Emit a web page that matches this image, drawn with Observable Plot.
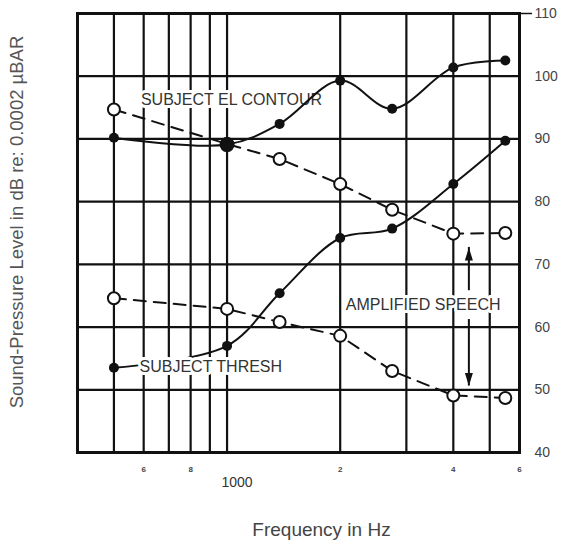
<!DOCTYPE html>
<html>
<head>
<meta charset="utf-8">
<script src="https://cdn.jsdelivr.net/npm/d3@7"></script>
<script src="https://cdn.jsdelivr.net/npm/@observablehq/plot@0.6"></script>
<style>
  html, body { margin: 0; padding: 0; background: #fff; }
  #chart svg { display: block; }
</style>
</head>
<body>
<div id="chart"></div>
<script>
// ---- data ----
const freqs = [500, 1000, 1380, 2000, 2750, 4000, 5500];
const elContourDb = [90.2, 89.1, 92.4, 99.3, 94.8, 101.4, 102.5];
const thresholdDb = [53.5, 57.0, 65.4, 74.2, 75.7, 82.8, 89.7];
const speechUpperDb = [94.7, 89.2, 86.8, 82.8, 78.7, 74.9, 75.0];
const speechLowerDb = [64.6, 62.9, 60.8, 58.6, 53.0, 49.1, 48.7];

const gridFreqs = [500, 600, 700, 800, 900, 1000, 2000, 3000, 4000, 5000];
const gridDb = [50, 60, 70, 80, 90, 100];
const yTicks = [40, 50, 60, 70, 80, 90, 100, 110];
const xTickValues = [600, 800, 2000, 4000, 6000];
const xTickLabels = ["6", "8", "2", "4", "6"];

const labels = [
  {text: "SUBJECT EL CONTOUR", f: 590, db: 96.2},
  {text: "SUBJECT THRESH", f: 585, db: 53.7},
  {text: "AMPLIFIED SPEECH", f: 2070, db: 63.5}
];
const arrowFreq = 4400;
const arrowUp = {from: 65.8, tip: 72.7};
const arrowDown = {from: 61.2, tip: 50.6};

const yLabel = "Sound-Pressure Level in dB re: 0.0002 µBAR";
const xLabel = "Frequency in Hz";

const toRows = (ys) => freqs.map((f, i) => ({f, db: ys[i]}));
const el = toRows(elContourDb);
const thr = toRows(thresholdDb);
const up = toRows(speechUpperDb);
const lo = toRows(speechLowerDb);

const headSymbol = {
  draw(context) {
    context.moveTo(0, 0);
    context.lineTo(4, 13);
    context.lineTo(-4, 13);
    context.closePath();
  }
};

const chart = Plot.plot({
  width: 562,
  height: 544,
  marginLeft: 77,
  marginRight: 43,
  marginTop: 13,
  marginBottom: 92,
  style: {fontFamily: "'Liberation Sans', Arial, sans-serif", background: "#fff"},
  x: {type: "log", domain: [400, 6000]},
  y: {domain: [40, 110]},
  marks: [
    Plot.ruleX(gridFreqs, {stroke: "#111", strokeWidth: 2.2}),
    Plot.ruleY(gridDb, {stroke: "#111", strokeWidth: 2.2}),
    Plot.frame({stroke: "#111", strokeWidth: 3}),
    Plot.text(labels.slice(0, 1), {x: "f", y: "db", text: "text", textAnchor: "start", fontSize: 16, fill: "#333", stroke: "white", strokeWidth: 6}),
    Plot.line(up, {x: "f", y: "db", stroke: "#111", strokeWidth: 2, strokeDasharray: "12,8"}),
    Plot.line(lo, {x: "f", y: "db", stroke: "#111", strokeWidth: 2, strokeDasharray: "12,8"}),
    Plot.line(el, {x: "f", y: "db", stroke: "#111", strokeWidth: 2, curve: "catmull-rom"}),
    Plot.line(thr, {x: "f", y: "db", stroke: "#111", strokeWidth: 2, curve: "catmull-rom"}),
    Plot.dot(up, {x: "f", y: "db", r: 6, fill: "white", stroke: "#111", strokeWidth: 2}),
    Plot.dot(lo, {x: "f", y: "db", r: 6, fill: "white", stroke: "#111", strokeWidth: 2}),
    Plot.dot(el, {x: "f", y: "db", r: 5, fill: "#111", stroke: null}),
    Plot.dot(el, {filter: (d) => d.f === 1000, x: "f", y: "db", r: 7.5, fill: "#111", stroke: null}),
    Plot.dot(thr, {x: "f", y: "db", r: 5, fill: "#111", stroke: null}),
    Plot.text(labels.slice(1), {x: "f", y: "db", text: "text", textAnchor: "start", fontSize: 16, fill: "#333", stroke: "white", strokeWidth: 6}),
    Plot.ruleX([arrowUp, arrowDown], {x: () => arrowFreq, y1: "from", y2: "tip", stroke: "#111", strokeWidth: 2}),
    Plot.dot([arrowUp], {x: () => arrowFreq, y: "tip", symbol: headSymbol, r: 4, fill: "#111", stroke: null}),
    Plot.dot([arrowDown], {x: () => arrowFreq, y: "tip", symbol: headSymbol, r: 4, fill: "#111", stroke: null, rotate: 180}),
    Plot.axisY({anchor: "right", ticks: yTicks, tickSize: 0, tickPadding: 15, fontSize: 14, color: "#444", label: null}),
    Plot.axisY({anchor: "right", ticks: [110], tickSize: 12, tickFormat: () => "", stroke: "#111", strokeWidth: 1.5, label: null}),
    Plot.axisX({ticks: xTickValues, tickSize: 0, tickPadding: 14, tickFormat: (d) => xTickLabels[xTickValues.indexOf(d)], fontSize: 8, fontWeight: "bold", color: "#444", label: null}),
    Plot.axisX({ticks: [1000], tickSize: 0, tickPadding: 25, dx: 10, tickFormat: (d) => String(d), fontSize: 14, color: "#333", label: null}),
    Plot.text([xLabel], {frameAnchor: "bottom", text: (d) => d, dy: 83, dx: 23, fontSize: 19, fill: "#444"}),
    Plot.text([yLabel], {frameAnchor: "left", textAnchor: "middle", text: (d) => d, rotate: -90, dx: -60, dy: -11, fontSize: 18.5, fill: "#555"})
  ]
});
document.getElementById("chart").appendChild(chart);
</script>
</body>
</html>
